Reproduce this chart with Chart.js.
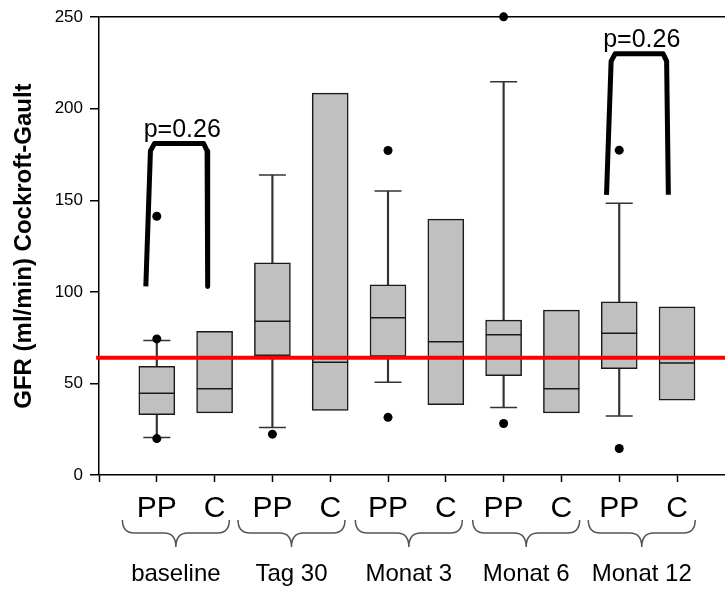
<!DOCTYPE html>
<html>
<head>
<meta charset="utf-8">
<script src="https://cdn.jsdelivr.net/npm/chart.js@4.4.0/dist/chart.umd.min.js"></script>
<style>
  html, body { margin: 0; padding: 0; background: #fff; }
</style>
</head>
<body>
<canvas id="chart" width="725" height="590"></canvas>
<script>
// box positions on the x axis and their labels
const positions = [1, 2, 3, 4, 5, 6, 7, 8, 9, 10];
const boxLabels = ['PP', 'C', 'PP', 'C', 'PP', 'C', 'PP', 'C', 'PP', 'C'];
const groupLabels = ['baseline', 'Tag 30', 'Monat 3', 'Monat 6', 'Monat 12'];
const groupCenters = [1.33, 3.33, 5.36, 7.39, 9.39];
const yTicks = [0, 50, 100, 150, 200, 250];

// box statistics (GFR ml/min)
const q1 = [33.0, 33.9, 65.2, 35.3, 64.7, 38.4, 54.3, 33.9, 58.0, 40.8];
const q3 = [59.4, 78.4, 115.9, 208.5, 103.8, 139.7, 84.6, 90.0, 94.6, 91.8];
const medians = [44.7, 47.1, 83.9, 61.6, 85.9, 72.8, 76.6, 47.1, 77.4, 61.2];
const whiskerLow = [20.5, null, 25.9, null, 50.7, null, 36.8, null, 32.2, null];
const whiskerHigh = [73.4, null, 163.8, null, 155.1, null, 214.7, null, 148.4, null];

// outlier points
const outlierX = [1, 1, 1, 3, 5, 5, 7, 7, 9, 9];
const outlierY = [141.3, 74.3, 19.9, 22.3, 177.2, 31.5, 250.2, 28.1, 177.4, 14.5];

// reference line and significance brackets
const referenceValue = 64;
const xMax = 10.83;
const pLabels = ['p=0.26', 'p=0.26'];
const pLabelX = [1.44, 9.39];
const pLabelY = [188.5, 237.5];
const bracketBaseline = [
  { x: 0.81, y: 103 }, { x: 0.89, y: 177 }, { x: 0.96, y: 181 },
  { x: 1.81, y: 181 }, { x: 1.87, y: 177 }, { x: 1.88, y: 103 }
];
const bracketMonat12 = [
  { x: 8.78, y: 153 }, { x: 8.86, y: 226 }, { x: 8.93, y: 230 },
  { x: 9.76, y: 230 }, { x: 9.82, y: 226 }, { x: 9.85, y: 153 }
];

const BOX_FILL = '#c0c0c0';
const BOX_LINE = '#1a1a1a';
const WHISKER = '#333333';
const FONT = '"Liberation Sans", Arial, sans-serif';

const whiskerData = positions
  .map((x, i) => whiskerLow[i] == null ? null : { x, y: [whiskerLow[i], whiskerHigh[i]] })
  .filter(Boolean);
const capData = [];
positions.forEach((x, i) => {
  if (whiskerLow[i] != null) {
    capData.push({ x, y: whiskerLow[i] });
    capData.push({ x, y: whiskerHigh[i] });
  }
});

// no extra side padding from the tick labels, the plot runs to the canvas edge
const noSidePadding = scale => {
  scale.paddingLeft = 0;
  scale.paddingRight = 0;
};

const bracePlugin = {
  id: 'braces',
  afterDatasetsDraw(chart) {
    const { ctx, scales } = chart;
    const xs = scales.x;
    const ys = scales.y;

    // p-value labels above the brackets
    ctx.save();
    ctx.font = '25px ' + FONT;
    ctx.fillStyle = '#000';
    ctx.textAlign = 'center';
    ctx.textBaseline = 'middle';
    pLabels.forEach((t, i) => {
      ctx.fillText(t, xs.getPixelForValue(pLabelX[i]), ys.getPixelForValue(pLabelY[i]));
    });
    ctx.restore();

    // curly braces grouping PP / C under the axis
    const top = xs.bottom;
    const mid = top + 13;
    const tip = top + 27;
    const half = 0.925 * (xs.getPixelForValue(1) - xs.getPixelForValue(0));
    ctx.save();
    ctx.strokeStyle = '#555';
    ctx.lineWidth = 1.5;
    groupCenters.forEach(g => {
      const cx = xs.getPixelForValue(g);
      ctx.beginPath();
      ctx.moveTo(cx - half, top);
      ctx.quadraticCurveTo(cx - half, mid, cx - half + 12, mid);
      ctx.lineTo(cx - 12, mid);
      ctx.quadraticCurveTo(cx, mid, cx, tip);
      ctx.quadraticCurveTo(cx, mid, cx + 12, mid);
      ctx.lineTo(cx + half - 12, mid);
      ctx.quadraticCurveTo(cx + half, mid, cx + half, top);
      ctx.stroke();
    });
    ctx.restore();
  }
};

new Chart(document.getElementById('chart'), {
  type: 'scatter',
  data: {
    datasets: [
      {
        type: 'line',
        data: bracketBaseline,
        borderColor: '#000',
        borderWidth: 5,
        borderJoinStyle: 'round',
        borderCapStyle: 'butt',
        pointRadius: 0,
        clip: false,
        order: 0
      },
      {
        type: 'line',
        data: bracketMonat12,
        borderColor: '#000',
        borderWidth: 5,
        borderJoinStyle: 'round',
        borderCapStyle: 'butt',
        pointRadius: 0,
        clip: false,
        order: 0
      },
      {
        type: 'line',
        data: [{ x: -0.05, y: referenceValue }, { x: xMax, y: referenceValue }],
        borderColor: '#ff0000',
        borderWidth: 4,
        pointRadius: 0,
        clip: false,
        order: 1
      },
      {
        type: 'scatter',
        data: outlierX.map((x, i) => ({ x, y: outlierY[i] })),
        pointStyle: 'circle',
        pointRadius: 4.5,
        backgroundColor: '#000',
        borderColor: '#000',
        borderWidth: 0,
        clip: false,
        order: 2
      },
      {
        type: 'scatter',
        data: positions.map((x, i) => ({ x, y: medians[i] })),
        pointStyle: 'line',
        pointRadius: 18,
        borderColor: BOX_LINE,
        borderWidth: 1.5,
        order: 3
      },
      {
        type: 'bar',
        data: positions.map((x, i) => ({ x, y: [q1[i], q3[i]] })),
        backgroundColor: BOX_FILL,
        borderColor: BOX_LINE,
        borderWidth: 1.5,
        borderSkipped: false,
        barThickness: 36,
        grouped: false,
        order: 4
      },
      {
        type: 'scatter',
        data: capData,
        pointStyle: 'line',
        pointRadius: 13.5,
        borderColor: WHISKER,
        borderWidth: 1.5,
        order: 5
      },
      {
        type: 'bar',
        data: whiskerData,
        backgroundColor: WHISKER,
        borderWidth: 0,
        barThickness: 1.5,
        grouped: false,
        order: 6
      }
    ]
  },
  options: {
    responsive: false,
    animation: false,
    devicePixelRatio: 1,
    layout: { autoPadding: false, padding: { top: 15, right: 0, left: 0, bottom: 0 } },
    plugins: {
      legend: { display: false },
      tooltip: { enabled: false }
    },
    scales: {
      x: {
        type: 'linear',
        position: 'bottom',
        offset: false,
        min: 0,
        max: xMax,
        afterBuildTicks: scale => { scale.ticks = [0, ...positions].map(v => ({ value: v })); },
        afterFit: scale => { scale.height = 45; noSidePadding(scale); },
        ticks: {
          autoSkip: false,
          maxRotation: 0,
          padding: 9,
          color: '#000',
          font: { family: FONT, size: 30 },
          callback: v => v === 0 ? '' : boxLabels[v - 1]
        },
        grid: { offset: false, drawOnChartArea: false, drawTicks: true, tickLength: 7, tickColor: '#000', tickWidth: 1.5 },
        border: { color: '#000', width: 1.5 }
      },
      x2: {
        type: 'linear',
        axis: 'x',
        position: 'bottom',
        offset: false,
        min: 0,
        max: xMax,
        afterBuildTicks: scale => { scale.ticks = groupCenters.map(v => ({ value: v })); },
        afterFit: scale => { scale.height = 70; noSidePadding(scale); },
        ticks: {
          autoSkip: false,
          maxRotation: 0,
          padding: 40,
          color: '#000',
          font: { family: FONT, size: 24 },
          callback: (v, i) => groupLabels[i]
        },
        grid: { offset: false, display: false, drawTicks: false },
        border: { display: false }
      },
      y: {
        min: 0,
        max: 250,
        afterBuildTicks: scale => { scale.ticks = yTicks.map(v => ({ value: v })); },
        afterFit: scale => { scale.width = 99; },
        ticks: {
          padding: 7,
          color: '#000',
          font: { family: FONT, size: 17 }
        },
        grid: {
          drawOnChartArea: true,
          drawTicks: true,
          tickLength: 9,
          tickColor: '#000',
          lineWidth: 1.5,
          color: ctx => (ctx.tick && ctx.tick.value === 250) ? '#000' : 'rgba(0,0,0,0)'
        },
        border: { color: '#000', width: 1.5 },
        title: {
          display: true,
          text: 'GFR (ml/min) Cockroft-Gault',
          color: '#000',
          padding: { top: 10, bottom: 0 },
          font: { family: FONT, size: 24, weight: 'bold' }
        }
      }
    }
  },
  plugins: [bracePlugin]
});
</script>
</body>
</html>
